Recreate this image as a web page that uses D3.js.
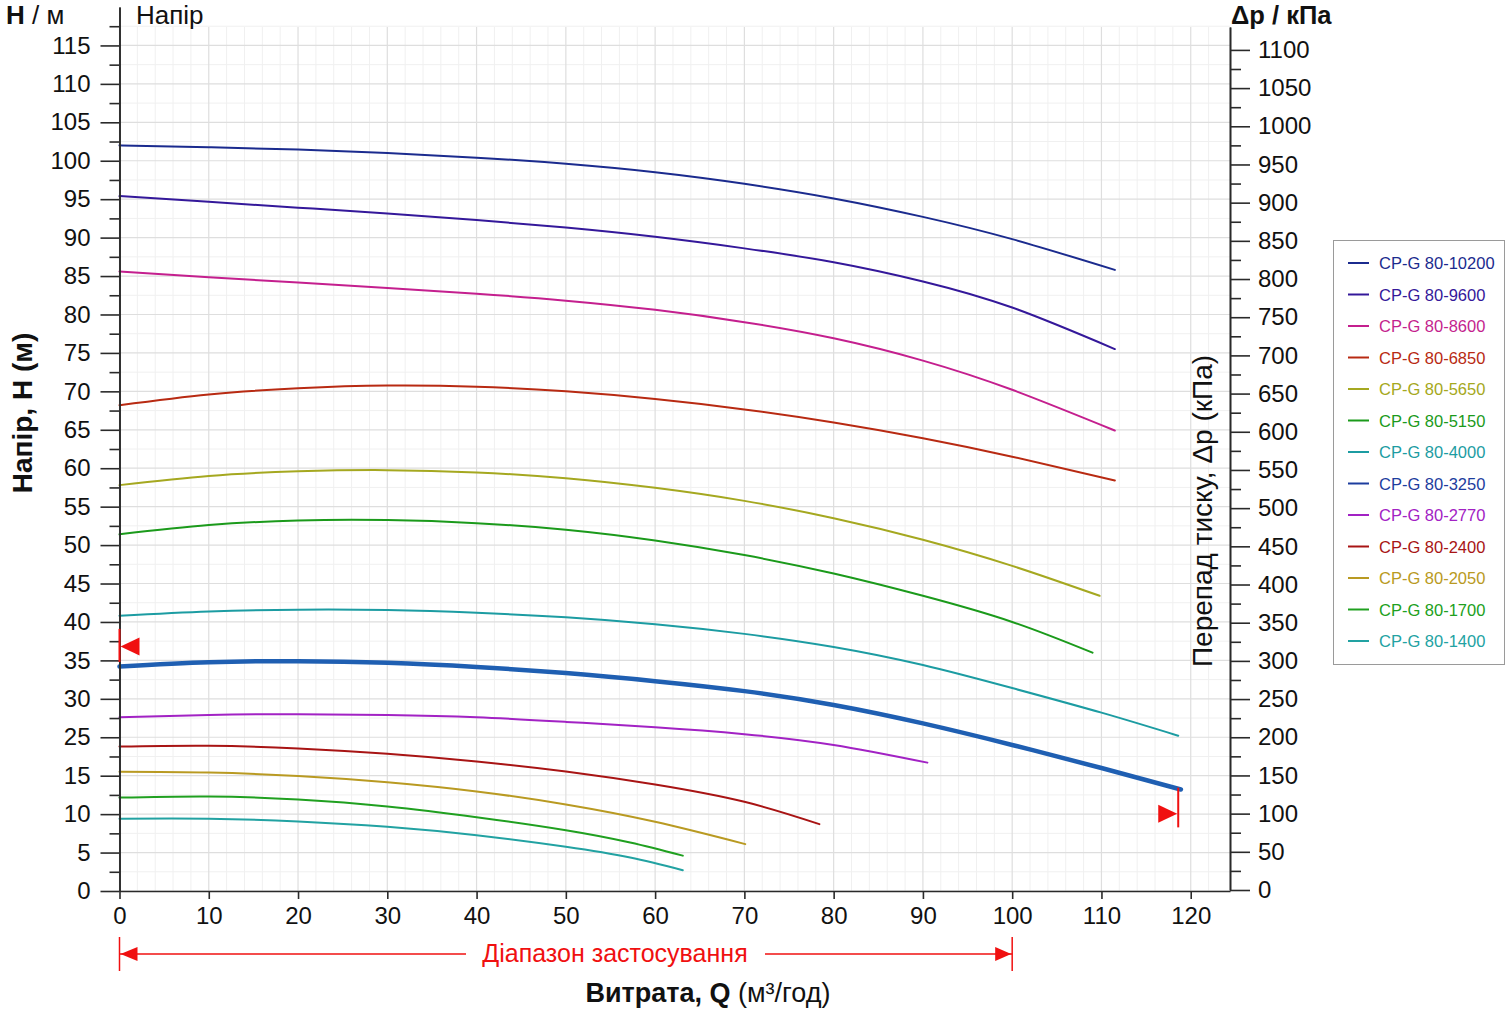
<!DOCTYPE html>
<html>
<head>
<meta charset="utf-8">
<script src="https://cdn.jsdelivr.net/npm/d3@7"></script>
<style>
  body { margin: 0; background: #fff; }
  text { font-family: "Liberation Sans", Arial, sans-serif; }
</style>
</head>
<body>
<svg id="chart" width="1509" height="1015"></svg>
<script>
//
// Data
//
const pumpNames = ['CP-G 80-10200', 'CP-G 80-9600', 'CP-G 80-8600', 'CP-G 80-6850', 'CP-G 80-5650',
  'CP-G 80-5150', 'CP-G 80-4000', 'CP-G 80-3250', 'CP-G 80-2770', 'CP-G 80-2400',
  'CP-G 80-2050', 'CP-G 80-1700', 'CP-G 80-1400'];
const pumpColors = ['#1b2b8e', '#34189a', '#c41f8e', '#b82a12', '#a5a820', '#1b9a1b', '#1c9ca2',
  '#1d3d9e', '#a222c4', '#a81414', '#b99a22', '#20a020', '#22a2a2'];

// flow Q (m3/h) and head H (m) for every curve
const qTop = [0, 10, 20, 30, 40, 50, 60, 70, 80, 90, 100, 111.5];
const h10200 = [97.0, 96.75, 96.45, 96.0, 95.4, 94.6, 93.5, 92.0, 90.1, 87.7, 84.8, 80.8];
const h9600 = [90.4, 89.65, 88.9, 88.15, 87.3, 86.3, 85.1, 83.6, 81.8, 79.3, 75.9, 70.5];
const h8600 = [80.6, 79.85, 79.15, 78.45, 77.7, 76.8, 75.6, 74.0, 71.9, 69.0, 65.2, 59.9];
const h6850 = [63.2, 64.6, 65.4, 65.75, 65.6, 65.0, 64.0, 62.65, 60.95, 58.9, 56.5, 53.4];
const q5650 = [0, 10, 20, 30, 40, 50, 60, 70, 80, 90, 100, 109.8];
const h5650 = [52.8, 54.0, 54.6, 54.75, 54.45, 53.7, 52.45, 50.75, 48.5, 45.7, 42.3, 38.4];
const q5150 = [0, 10, 20, 30, 40, 50, 60, 70, 80, 90, 100, 109];
const h5150 = [46.4, 47.6, 48.2, 48.25, 47.85, 47.0, 45.6, 43.7, 41.3, 38.4, 35.0, 31.0];
const q4000 = [0, 10, 20, 30, 40, 50, 60, 70, 80, 90, 100, 110, 118.6];
const h4000 = [35.8, 36.35, 36.6, 36.55, 36.2, 35.6, 34.7, 33.45, 31.75, 29.4, 26.4, 23.2, 20.2];
const q3250 = [0, 10, 20, 30, 40, 50, 60, 70, 80, 90, 100, 110, 118.9];
const h3250 = [29.2, 29.75, 29.9, 29.7, 29.15, 28.35, 27.3, 26.0, 24.2, 21.8, 19.0, 16.0, 13.2];
const q2770 = [0, 10, 20, 30, 40, 50, 60, 70, 80, 90.5];
const h2770 = [22.6, 22.9, 23.0, 22.9, 22.6, 22.0, 21.3, 20.4, 19.0, 16.7];
const q2400 = [0, 10, 20, 30, 40, 50, 60, 70, 78.4];
const h2400 = [18.8, 18.9, 18.55, 17.85, 16.85, 15.55, 13.85, 11.6, 8.7];
const q2050 = [0, 10, 20, 30, 40, 50, 60, 70.1];
const h2050 = [15.5, 15.4, 14.97, 14.15, 12.95, 11.25, 9.0, 6.1];
const qLow = [0, 10, 20, 30, 40, 50, 57.2, 63.1];
const h1700 = [12.15, 12.3, 11.9, 11.0, 9.6, 7.9, 6.3, 4.6];
const h1400 = [9.4, 9.4, 9.05, 8.35, 7.25, 5.75, 4.35, 2.7];

const curveQ = [qTop, qTop, qTop, qTop, q5650, q5150, q4000, q3250, q2770, q2400, q2050, qLow, qLow];
const curveH = [h10200, h9600, h8600, h6850, h5650, h5150, h4000, h3250, h2770, h2400, h2050, h1700, h1400];
const selectedPump = 'CP-G 80-3250';

// ticks
const qTicks = [0, 10, 20, 30, 40, 50, 60, 70, 80, 90, 100, 110, 120];
const hTickValues = d3.range(0, 111, 5);
const hTickLabels = ['0', '5', '10', '15', '25', '30', '35', '40', '45', '50', '55', '60', '65',
  '70', '75', '80', '85', '90', '95', '100', '105', '110', '115'];
const pTicks = d3.range(0, 1101, 50);

// application range and operating point markers
const rangeQ = [0, 100];
const opH = [29.8, 34.1];
const opArrowH = 31.8;
const opQ = 118.6;
const opP = [82, 134];
const opArrowP = 100;

//
// Layout
//
const svg = d3.select('#chart');
const left = 119.5, right = 1230, bottom = 891;
const x = d3.scaleLinear().domain([0, 124.4]).range([left, right]);
const y = d3.scaleLinear().domain([0, 115]).range([bottom, 7]);
const yP = d3.scaleLinear().domain([0, 1130]).range([890, 27]);
const axisColor = '#2a2a2a';
const red = '#f01010';

svg.append('rect').attr('width', 1509).attr('height', 1015).attr('fill', '#fff');

//
// Grid
//
const grid = svg.append('g');
grid.selectAll('.vmin').data(d3.range(0, 124, 2).filter(d => d % 10 !== 0)).join('line')
    .attr('x1', d => x(d)).attr('x2', d => x(d)).attr('y1', 27).attr('y2', bottom)
    .attr('stroke', '#f0f0f0').attr('stroke-width', 1);
grid.selectAll('.hmin').data(d3.range(2.5, 115, 5)).join('line')
    .attr('x1', left).attr('x2', right).attr('y1', d => y(d)).attr('y2', d => y(d))
    .attr('stroke', '#f0f0f0').attr('stroke-width', 1);
grid.selectAll('.vmaj').data(qTicks).join('line')
    .attr('x1', d => x(d)).attr('x2', d => x(d)).attr('y1', 27).attr('y2', bottom)
    .attr('stroke', '#dedede').attr('stroke-width', 1.2);
grid.selectAll('.hmaj').data(hTickValues).join('line')
    .attr('x1', left).attr('x2', right).attr('y1', d => y(d)).attr('y2', d => y(d))
    .attr('stroke', '#dedede').attr('stroke-width', 1.2);

//
// Curves
//
const line = d3.line().x(d => x(d[0])).y(d => y(d[1])).curve(d3.curveNatural);
pumpNames.forEach((name, i) => {
  const pts = curveQ[i].map((q, j) => [q, curveH[i][j]]);
  const sel = name === selectedPump;
  svg.append('path').datum(pts)
      .attr('d', line)
      .attr('fill', 'none')
      .attr('stroke', sel ? '#1f5fb2' : pumpColors[i])
      .attr('stroke-width', sel ? 4.5 : 2)
      .attr('stroke-linecap', 'round');
});

//
// Axes
//
function styleAxis(g) {
  g.selectAll('path, line').attr('stroke', axisColor).attr('stroke-width', 1.6);
  g.selectAll('text').attr('fill', '#111').style('font-size', '24px')
      .style('font-family', '"Liberation Sans", Arial, sans-serif');
}

svg.append('g').attr('transform', `translate(${left},0)`)
    .call(d3.axisLeft(y).tickValues(d3.range(2.5, 118, 5)).tickSize(10).tickFormat('').tickSizeOuter(0))
    .call(styleAxis);
svg.append('g').attr('transform', `translate(${left},0)`)
    .call(d3.axisLeft(y).tickValues(hTickValues).tickSize(19).tickPadding(10).tickSizeOuter(0)
        .tickFormat((d, i) => hTickLabels[i]))
    .call(styleAxis);

svg.append('g').attr('transform', `translate(${right},0)`)
    .call(d3.axisRight(yP).tickValues(d3.range(25, 1100, 50)).tickSize(11).tickFormat('').tickSizeOuter(0))
    .call(styleAxis);
svg.append('g').attr('transform', `translate(${right},0)`)
    .call(d3.axisRight(yP).tickValues(pTicks).tickSize(20).tickPadding(8).tickSizeOuter(0)
        .tickFormat(d3.format('d')))
    .call(styleAxis);

svg.append('g').attr('transform', `translate(0,${bottom})`)
    .call(d3.axisBottom(x).tickValues(qTicks).tickSize(8).tickPadding(8).tickSizeOuter(0))
    .call(styleAxis);

//
// Titles
//
const hTitle = svg.append('text').attr('x', 6).attr('y', 24).style('font-size', '26px').attr('fill', '#111');
hTitle.append('tspan').attr('font-weight', 'bold').text('H');
hTitle.append('tspan').text(' / м');
svg.append('text').attr('x', 136).attr('y', 24).style('font-size', '26px').attr('fill', '#111').text('Напір');
svg.append('text').attr('x', 1231).attr('y', 24).style('font-size', '25.5px').attr('font-weight', 'bold')
    .attr('fill', '#111').text('Δp / кПа');

svg.append('text').attr('transform', 'translate(32,413) rotate(-90)').attr('text-anchor', 'middle')
    .style('font-size', '28px').attr('font-weight', 'bold').attr('fill', '#111').text('Напір, H (м)');
svg.append('text').attr('transform', 'translate(1212,511) rotate(-90)').attr('text-anchor', 'middle')
    .style('font-size', '28px').attr('fill', '#111').text('Перепад тиску, Δp (кПа)');

const qTitle = svg.append('text').attr('x', 708).attr('y', 1002).attr('text-anchor', 'middle')
    .style('font-size', '27px').attr('fill', '#111');
qTitle.append('tspan').attr('font-weight', 'bold').text('Витрата, Q');
qTitle.append('tspan').text(' (м³/год)');

//
// Application range
//
const ry = 954;
const rx0 = x(rangeQ[0]), rx1 = x(rangeQ[1]);
svg.append('text').attr('x', 615).attr('y', 962).attr('text-anchor', 'middle')
    .style('font-size', '25px').attr('fill', red).text('Діапазон застосування');
[[rx0, 466], [765, rx1]].forEach(s => {
  svg.append('line').attr('x1', s[0]).attr('x2', s[1]).attr('y1', ry).attr('y2', ry)
      .attr('stroke', red).attr('stroke-width', 1.5);
});
[rx0, rx1].forEach(px => {
  svg.append('line').attr('x1', px).attr('x2', px).attr('y1', 937).attr('y2', 971)
      .attr('stroke', red).attr('stroke-width', 1.5);
});
svg.append('path').attr('d', `M${rx0 + 1},${ry}L${rx0 + 18},${ry - 7}L${rx0 + 18},${ry + 7}Z`).attr('fill', red);
svg.append('path').attr('d', `M${rx1 - 1},${ry}L${rx1 - 17},${ry - 7}L${rx1 - 17},${ry + 7}Z`).attr('fill', red);

//
// Operating point markers
//
svg.append('line').attr('x1', left).attr('x2', left).attr('y1', y(opH[0])).attr('y2', y(opH[1]))
    .attr('stroke', red).attr('stroke-width', 2);
const ay = y(opArrowH);
svg.append('path').attr('d', `M${left + 1},${ay}L${left + 20},${ay - 9}L${left + 20},${ay + 9}Z`).attr('fill', red);

const ox = x(opQ);
svg.append('line').attr('x1', ox).attr('x2', ox).attr('y1', yP(opP[0])).attr('y2', yP(opP[1]))
    .attr('stroke', red).attr('stroke-width', 2);
const by = yP(opArrowP);
svg.append('path').attr('d', `M${ox - 1},${by}L${ox - 20},${by - 9}L${ox - 20},${by + 9}Z`).attr('fill', red);

//
// Legend
//
const legend = svg.append('g');
legend.append('rect').attr('x', 1333.5).attr('y', 240.5).attr('width', 171).attr('height', 424)
    .attr('fill', '#fff').attr('stroke', '#9a9a9a').attr('stroke-width', 1);
pumpNames.forEach((name, i) => {
  const ly = 263 + i * 31.5;
  legend.append('line').attr('x1', 1348).attr('x2', 1369).attr('y1', ly).attr('y2', ly)
      .attr('stroke', pumpColors[i]).attr('stroke-width', 2);
  legend.append('text').attr('x', 1379).attr('y', ly + 6).style('font-size', '16.5px')
      .attr('fill', pumpColors[i]).text(name);
});
</script>
</body>
</html>
